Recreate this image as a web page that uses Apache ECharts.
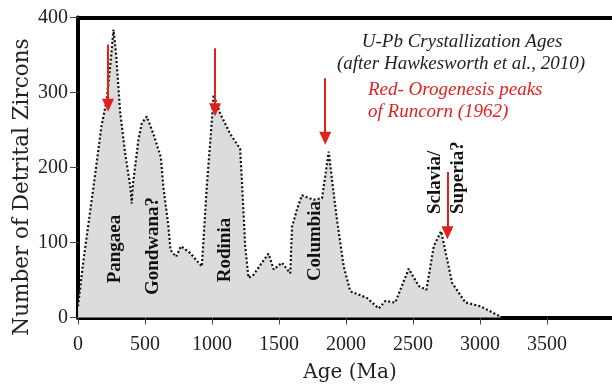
<!DOCTYPE html>
<html>
<head>
<meta charset="utf-8">
<script src="https://cdn.jsdelivr.net/npm/echarts@6/dist/echarts.min.js"></script>
<style>
html, body { margin: 0; padding: 0; background: #fff; }
#chart { width: 612px; height: 387px; }
</style>
</head>
<body>
<div id="chart"></div>
<script>
// zircon age spectrum
var ages = [0, 40, 120, 175, 214, 240, 265, 285, 314, 351, 390, 401, 410, 451, 476, 513, 562, 618, 637, 675,
    690, 732, 769, 837, 924, 961, 999, 1012, 1061, 1135, 1210, 1223, 1248, 1272, 1310, 1372, 1422, 1460,
    1522, 1584, 1597, 1634, 1671, 1758, 1821, 1871, 1896, 1933, 1983, 2032, 2157, 2244, 2294, 2368, 2468,
    2543, 2600, 2655, 2710, 2792, 2891, 3003, 3165];
var counts = [15, 75, 180, 255, 290, 335, 384, 350, 275, 220, 175, 152, 178, 237, 259, 268, 245, 214, 174, 121,
    90, 81, 95, 86, 68, 174, 263, 297, 272, 245, 225, 183, 95, 53, 57, 73, 85, 64,
    73, 59, 121, 144, 163, 157, 159, 221, 183, 130, 68, 35, 26, 12, 22, 20, 65,
    42, 37, 95, 115, 46, 20, 15, 0];

// red orogenesis arrows (age, start count, end count)
var arrowAges = [224, 1023, 1845, 2757];
var arrowFrom = [364, 359, 319, 194];
var arrowTo = [283, 277, 239, 113];

// supercontinent labels
var labelNames = ['Pangaea', 'Gondwana?', 'Rodinia', 'Columbia'];
var labelX = [115, 153, 225, 315];
var labelY = [249, 246, 250, 241];

var myChart = echarts.init(document.getElementById('chart'));

var points = ages.map(function (a, i) { return [a, counts[i]]; });
var arrows = arrowAges.map(function (a, i) {
    return [{coord: [a, arrowFrom[i]]}, {coord: [a, arrowTo[i]]}];
});

var serif = '"Liberation Serif", serif';
var graphics = [];

labelNames.forEach(function (name, i) {
    graphics.push({
        type: 'text', x: labelX[i], y: labelY[i], rotation: Math.PI / 2, z: 100,
        style: {text: name, font: 'bold 19px ' + serif, fill: '#111',
            textAlign: 'center', textVerticalAlign: 'middle'}
    });
});
graphics.push({
    type: 'text', x: 435, y: 214, rotation: Math.PI / 2, z: 100,
    style: {text: 'Sclavia/', font: 'bold 19px ' + serif, fill: '#111',
        textAlign: 'left', textVerticalAlign: 'middle'}
});
graphics.push({
    type: 'text', x: 458, y: 214, rotation: Math.PI / 2, z: 100,
    style: {text: 'Superia?', font: 'bold 19px ' + serif, fill: '#111',
        textAlign: 'left', textVerticalAlign: 'middle'}
});
graphics.push({
    type: 'text', x: 462, y: 42, z: 100,
    style: {text: 'U-Pb Crystallization Ages', font: 'italic 19px ' + serif, fill: '#222',
        textAlign: 'center', textVerticalAlign: 'middle'}
});
graphics.push({
    type: 'text', x: 461, y: 64, z: 100,
    style: {text: '(after Hawkesworth et al., 2010)', font: 'italic 19px ' + serif, fill: '#222',
        textAlign: 'center', textVerticalAlign: 'middle'}
});
graphics.push({
    type: 'text', x: 368, y: 90, z: 100,
    style: {text: 'Red- Orogenesis peaks', font: 'italic 19px ' + serif, fill: '#e0221f',
        textAlign: 'left', textVerticalAlign: 'middle'}
});
graphics.push({
    type: 'text', x: 368, y: 112, z: 100,
    style: {text: 'of Runcorn (1962)', font: 'italic 19px ' + serif, fill: '#e0221f',
        textAlign: 'left', textVerticalAlign: 'middle'}
});
graphics.push({
    type: 'text', x: 22, y: 187, rotation: Math.PI / 2, z: 100,
    style: {text: 'Number of Detrital Zircons', font: '21.5px "DejaVu Serif", serif', fill: '#222',
        textAlign: 'center', textVerticalAlign: 'middle'}
});
graphics.push({
    type: 'text', x: 350, y: 373, z: 100,
    style: {text: 'Age (Ma)', font: '20px "DejaVu Serif", serif', fill: '#222',
        textAlign: 'center', textVerticalAlign: 'middle'}
});

var option = {
    animation: false,
    grid: {left: 78, right: 0, top: 17.5, bottom: 69.5},
    xAxis: [
        {
            type: 'value',
            position: 'bottom',
            min: 0,
            max: 3985,
            interval: 500,
            axisLine: {show: true, lineStyle: {color: '#000', width: 4}},
            axisTick: {show: true, length: 7, lineStyle: {color: '#444', width: 1}},
            axisLabel: {
                showMaxLabel: false,
                margin: 17,
                fontSize: 20,
                fontFamily: serif,
                color: '#222',
                formatter: function (v) { return String(v); }
            },
            splitLine: {show: false}
        },
        {
            type: 'value',
            position: 'top',
            min: 0,
            max: 3985,
            axisLine: {show: true, lineStyle: {color: '#000', width: 4}},
            axisTick: {show: false},
            axisLabel: {show: false},
            splitLine: {show: false}
        }
    ],
    yAxis: {
        type: 'value',
        min: 0,
        max: 400,
        interval: 100,
        axisLine: {show: true, lineStyle: {color: '#000', width: 4}},
        axisTick: {show: true, length: 8, lineStyle: {color: '#444', width: 1}},
        axisLabel: {margin: 10, fontSize: 20, fontFamily: serif, color: '#222'},
        splitLine: {show: false}
    },
    series: [
        {
            type: 'line',
            data: points,
            symbol: 'none',
            lineStyle: {color: '#111', width: 2.2, type: [2, 2.2]},
            areaStyle: {color: '#dcdcdc', opacity: 1},
            markLine: {
                silent: true,
                symbol: ['none', 'triangle'],
                symbolSize: [12, 13],
                label: {show: false},
                lineStyle: {color: '#e0221f', width: 2, type: 'solid'},
                emphasis: {disabled: true},
                data: arrows
            }
        }
    ],
    graphic: graphics
};

myChart.setOption(option);
</script>
</body>
</html>
